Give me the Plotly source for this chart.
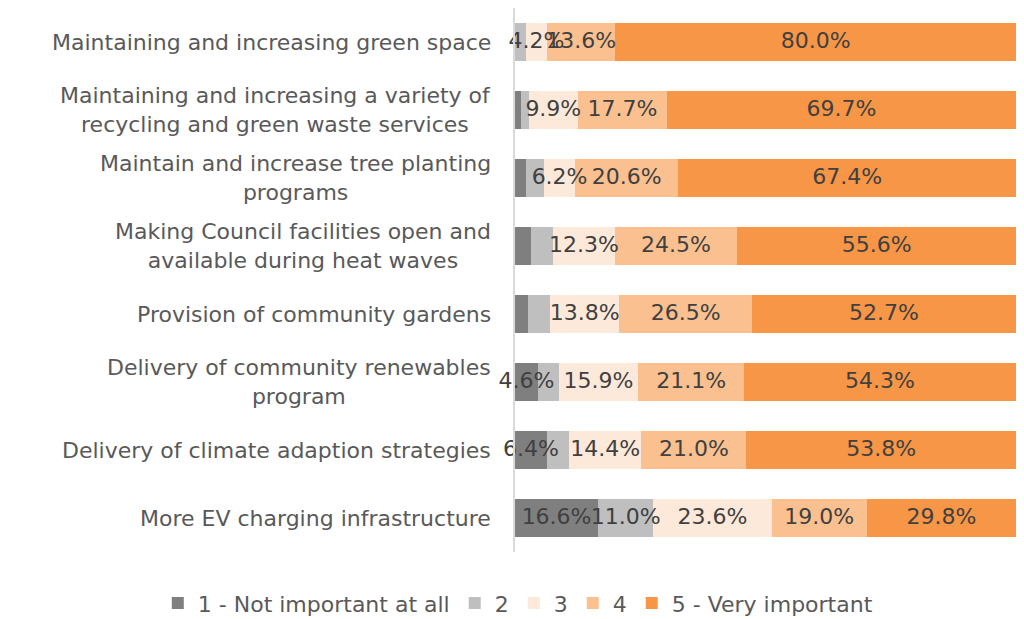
import plotly.graph_objects as go

categories = [
    "Maintaining and increasing green space",
    "Maintaining and increasing a variety of<br>recycling and green waste services",
    "Maintain and increase tree planting<br>programs",
    "Making Council facilities open and<br>available during heat waves",
    "Provision of community gardens",
    "Delivery of community renewables<br>program",
    "Delivery of climate adaption strategies",
    "More EV charging infrastructure",
]

series_names = ["1 - Not important at all", "2", "3", "4", "5 - Very important"]
colors = ["#7f7f7f", "#bfbfbf", "#fde9d9", "#fac090", "#f79646"]

not_important = [0.0, 1.1, 2.1, 3.1, 2.5, 4.6, 6.4, 16.6]
score_2 = [2.2, 1.6, 3.7, 4.5, 4.5, 4.1, 4.4, 11.0]
score_3 = [4.2, 9.9, 6.2, 12.3, 13.8, 15.9, 14.4, 23.6]
score_4 = [13.6, 17.7, 20.6, 24.5, 26.5, 21.1, 21.0, 19.0]
very_important = [80.0, 69.7, 67.4, 55.6, 52.7, 54.3, 53.8, 29.8]

all_series = [not_important, score_2, score_3, score_4, very_important]

FONT = "DejaVu Sans"
TXT = "#404040"
CAT = "#595959"

fig = go.Figure()
rows = list(range(len(categories)))

for name, vals, col in zip(series_names, all_series, colors):
    fig.add_trace(go.Bar(
        y=rows, x=vals, name=name, orientation="h",
        marker=dict(color=col, line=dict(width=0)),
        hoverinfo="x+name",
    ))

# data labels: small 1/2 segments are left unlabelled, like the original
cum = [0.0] * len(categories)
lx, ly, lt = [], [], []
for i, vals in enumerate(all_series):
    for r, v in enumerate(vals):
        if i >= 2 or v >= 4.6:
            lx.append(cum[r] + v / 2)
            ly.append(r)
            lt.append(f"{v:.1f}%")
        cum[r] += v
fig.add_trace(go.Scatter(
    x=lx, y=ly, text=lt, mode="text", showlegend=False, hoverinfo="skip",
    cliponaxis=False,
    textfont=dict(family=FONT, size=22, color=TXT),
))

for r, cat in enumerate(categories):
    fig.add_annotation(
        x=0, y=r, xref="paper", yref="y", text=cat, showarrow=False,
        xanchor="right", align="center", xshift=-22,
        font=dict(family=FONT, size=22, color=CAT),
    )

# page sits 8px in from the window corner, so the figure is sized to fit
fig.update_layout(
    barmode="stack",
    bargap=0.45,
    width=1008, height=611,
    margin=dict(l=507, r=0, t=0, b=67, autoexpand=False),
    plot_bgcolor="white", paper_bgcolor="white",
    font=dict(family=FONT, size=22, color=CAT),
    legend=dict(
        orientation="h", traceorder="normal",
        x=-0.713, xanchor="left",
        y=-0.094, yanchor="middle",
        font=dict(size=22, color=CAT),
        bgcolor="rgba(0,0,0,0)",
    ),
    showlegend=True,
)
fig.update_xaxes(range=[0, 100], visible=False)
fig.update_yaxes(
    range=[len(categories) - 0.5, -0.5], showticklabels=False,
    showgrid=False, zeroline=False,
    showline=True, linecolor="#d9d9d9", linewidth=2,
)

fig.write_html("out.html")
